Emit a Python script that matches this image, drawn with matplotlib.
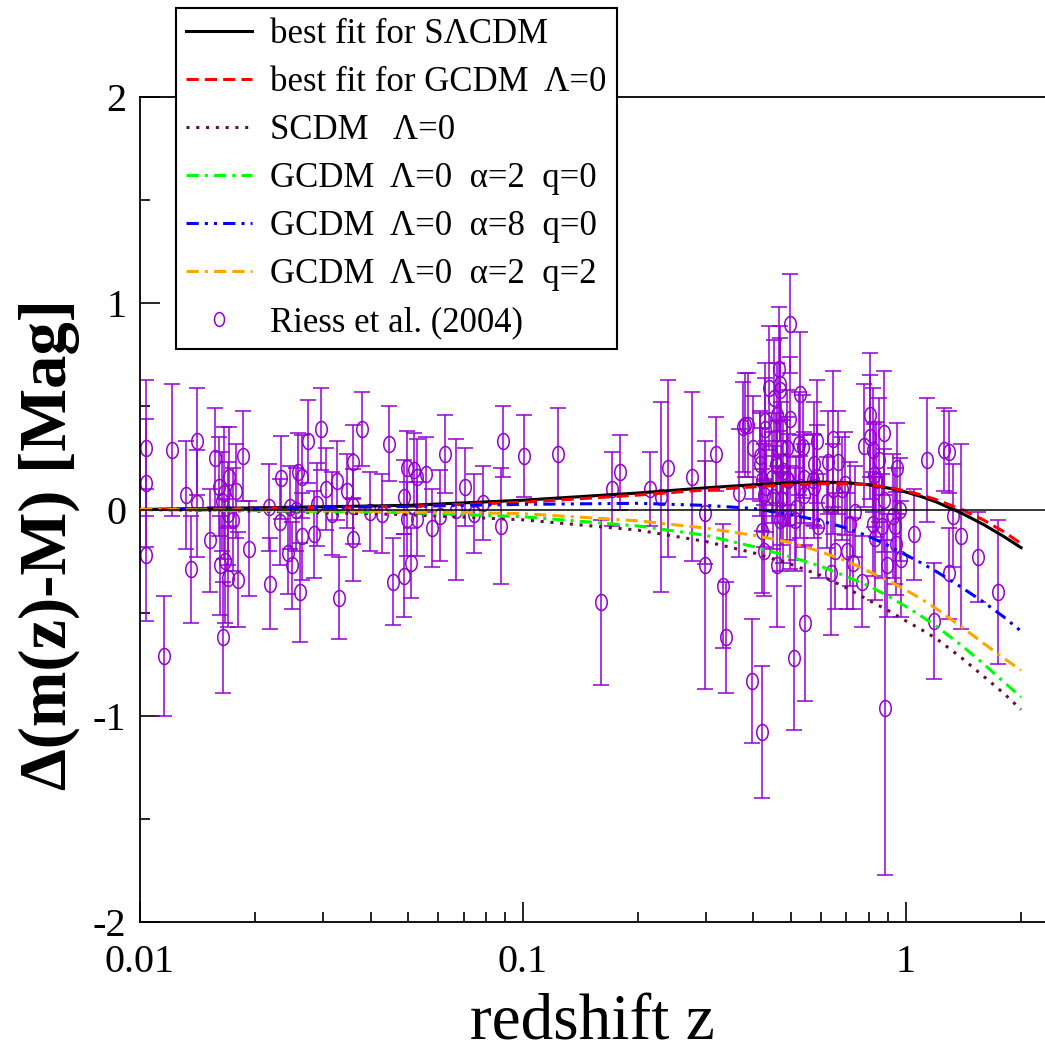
import numpy as np
import matplotlib
matplotlib.use('Agg')
import matplotlib.pyplot as plt
from matplotlib.path import Path
from matplotlib.lines import Line2D
from matplotlib.ticker import MultipleLocator, NullFormatter, LogLocator

plt.rcParams['font.family'] = ['Liberation Serif', 'DejaVu Serif']

# model curves
z_model = [0.01, 0.02, 0.05, 0.1, 0.2, 0.3, 0.4, 0.5, 0.6, 0.7, 0.8, 0.9, 1.0, 1.1, 1.2, 1.4, 1.6, 1.8, 2.0]
slcdm = [0.0, 0.008, 0.02, 0.045, 0.08, 0.105, 0.12, 0.13, 0.133, 0.13, 0.12, 0.104, 0.085, 0.062, 0.037, -0.018, -0.074, -0.13, -0.185]
gcdm_fit = [0.0, 0.006, 0.015, 0.035, 0.07, 0.095, 0.11, 0.12, 0.125, 0.125, 0.12, 0.107, 0.09, 0.07, 0.048, 0.0, -0.052, -0.107, -0.165]
scdm = [0.0, -0.008, -0.025, -0.05, -0.1, -0.155, -0.21, -0.265, -0.32, -0.38, -0.44, -0.49, -0.54, -0.583, -0.625, -0.72, -0.81, -0.89, -0.97]
gcdm_a2_q0 = [0.0, -0.005, -0.015, -0.035, -0.08, -0.125, -0.18, -0.23, -0.275, -0.325, -0.37, -0.42, -0.47, -0.518, -0.565, -0.66, -0.75, -0.835, -0.91]
gcdm_a8_q0 = [0.0, 0.006, 0.015, 0.025, 0.03, 0.02, 0.005, -0.025, -0.055, -0.09, -0.13, -0.175, -0.22, -0.26, -0.30, -0.378, -0.45, -0.52, -0.59]
gcdm_a2_q2 = [0.0, -0.003, -0.01, -0.02, -0.055, -0.09, -0.125, -0.16, -0.205, -0.25, -0.30, -0.345, -0.39, -0.435, -0.48, -0.57, -0.65, -0.72, -0.78]

# supernova data (Riess et al. 2004)
sn_z = [0.01037, 0.01037, 0.01037, 0.01155, 0.01212, 0.01319, 0.01359, 0.01409, 0.01409, 0.01523,
        0.0157, 0.01608, 0.01637, 0.01657, 0.01618, 0.01667, 0.01647, 0.01697, 0.01707, 0.01697,
        0.01749, 0.01781, 0.01803, 0.01858, 0.01926, 0.02172, 0.02185, 0.02334, 0.0232, 0.02434,
        0.02494, 0.02464, 0.02586, 0.02649, 0.02555, 0.02649, 0.02617, 0.02746, 0.02847, 0.02899,
        0.02969, 0.0306, 0.03172,
        0.03269, 0.03308, 0.03471, 0.03598, 0.03598, 0.03598, 0.03798, 0.03985, 0.04283, 0.04468,
        0.04577, 0.04891, 0.04891, 0.0498, 0.0498, 0.05101, 0.05194, 0.05289, 0.05289, 0.05583,
        0.05788, 0.06072, 0.06257, 0.06685, 0.07057, 0.07449, 0.07862, 0.08761, 0.08867, 0.1006,
        0.1234, 0.1598, 0.1708, 0.1792, 0.2146, 0.2293, 0.2391, 0.2762, 0.2987, 0.2987,
        0.3191, 0.3329, 0.3389, 0.3664, 0.3753,
        0.3798, 0.3868, 0.3962, 0.3986, 0.4158, 0.4208, 0.4208, 0.4208, 0.4259, 0.4285,
        0.4285, 0.4311, 0.4389, 0.4523, 0.4495, 0.4578, 0.4605, 0.4605, 0.4661, 0.4688,
        0.4688, 0.4717, 0.4774, 0.4774, 0.4890, 0.4920, 0.4979, 0.4979, 0.4979, 0.5101,
        0.5162, 0.5287, 0.5287, 0.5416, 0.5449, 0.5751, 0.5751, 0.5855, 0.5855, 0.5891,
        0.6220, 0.6258, 0.6372, 0.6449, 0.6527, 0.6646, 0.6808, 0.6449,
        0.4688, 0.5256, 0.4890, 0.4158, 0.4605, 0.5380, 0.5710, 0.5410, 0.4468, 0.4259,
        0.4717, 0.5130,
        0.6932, 0.7143, 0.7360, 0.7015, 0.7272, 0.7675, 0.7768, 0.8054, 0.8054, 0.8200,
        0.8250, 0.8350, 0.8200, 0.8300, 0.8502, 0.8657, 0.8762, 0.8762, 0.8815, 0.8921,
        0.9250, 0.9362, 0.9475, 0.9418, 0.9646, 0.9703, 1.0493, 1.1345, 1.1832,
        1.2568, 1.2954, 1.3268, 1.2954, 1.3921, 1.5417, 1.7388]
sn_dm = [0.30, 0.13, -0.22, -0.71, 0.29, 0.07, -0.29, 0.33, 0.03, -0.15,
         0.25, 0.11, 0.04, 0.08, -0.27, -0.25, -0.62, -0.33, 0.16, -0.02,
         -0.05, 0.09, -0.34, 0.26, -0.19, 0.01, -0.36, 0.155, -0.06, -0.21,
         -0.27, 0.01, 0.18, 0.16, 0.00, -0.13, -0.40, 0.33, -0.12, 0.025,
         0.39, 0.10, -0.02,
         0.14, -0.43, 0.09, 0.23, 0.015, -0.145, 0.39, -0.01, -0.02, 0.32,
         -0.35, -0.32, 0.06, 0.20, -0.045, -0.26, 0.19, 0.16, -0.045, 0.17,
         -0.09, -0.03, 0.27, 0.00, 0.11, -0.02, 0.03, -0.08, 0.33, 0.26,
         0.27, -0.45, 0.10, 0.18, 0.10, 0.06, 0.20, 0.16, -0.016, -0.27,
         0.27, -0.37, -0.62, 0.08, 0.40,
         0.41, 0.41, -0.83, 0.30, 0.26, -1.08, 0.145, -0.105, -0.20, 0.43,
         0.39, 0.11, 0.59, 0.54, 0.06, 0.22, -0.27, 0.46, 0.68, 0.61,
         0.58, 0.30, 0.185, -0.04, 0.15, 0.145, 0.90, 0.44, -0.04, -0.72,
         0.005, 0.56, 0.11, 0.155, -0.55, 0.22, 0.11, 0.33, 0.16, -0.08,
         0.035, 0.23, -0.31, 0.34, -0.20, 0.23, 0.10, 0.10,
         -0.05, 0.32, 0.30, 0.22, 0.21, 0.305, 0.145, 0.07, 0.155, 0.07,
         0.05, -0.05,
         0.125, -0.07, -0.01, -0.20, -0.26, -0.35, 0.31, 0.46, 0.35, 0.29,
         0.165, 0.145, -0.07, -0.14, 0.24, -0.08, 0.37, 0.045, -0.96, -0.27,
         -0.03, -0.08, 0.20, -0.165, 0.0, -0.24, -0.12, 0.24, -0.54,
         0.29, 0.28, -0.03, -0.31, -0.13, -0.23, -0.40]
sn_err = [0.33, 0.31, 0.32, 0.29, 0.32, 0.26, 0.26, 0.26, 0.26, 0.25,
          0.24, 0.24, 0.24, 0.32, 0.24, 0.30, 0.27, 0.24, 0.24, 0.25,
          0.25, 0.23, 0.23, 0.22, 0.23, 0.21, 0.22, 0.20, 0.21, 0.20,
          0.21, 0.20, 0.19, 0.20, 0.20, 0.21, 0.24, 0.20, 0.21, 0.20,
          0.20, 0.20, 0.20,
          0.19, 0.20, 0.18, 0.18, 0.18, 0.20, 0.18, 0.19, 0.19, 0.18,
          0.21, 0.20, 0.18, 0.18, 0.18, 0.17, 0.18, 0.18, 0.18, 0.18,
          0.19, 0.22, 0.19, 0.34, 0.19, 0.19, 0.18, 0.28, 0.17, 0.20,
          0.22, 0.40, 0.18, 0.18, 0.18, 0.46, 0.43, 0.41, 0.25, 0.60,
          0.18, 0.30, 0.27, 0.31, 0.22,
          0.25, 0.25, 0.30, 0.25, 0.22, 0.32, 0.25, 0.30, 0.22, 0.28,
          0.25, 0.22, 0.30, 0.28, 0.25, 0.25, 0.30, 0.25, 0.30, 0.28,
          0.25, 0.22, 0.25, 0.22, 0.30, 0.22, 0.24, 0.30, 0.25, 0.35,
          0.25, 0.30, 0.25, 0.22, 0.38, 0.30, 0.25, 0.30, 0.25, 0.25,
          0.22, 0.25, 0.30, 0.33, 0.28, 0.25, 0.25, 0.22,
          0.25, 0.25, 0.28, 0.25, 0.22, 0.25, 0.22, 0.25, 0.22, 0.25,
          0.22, 0.25,
          0.25, 0.30, 0.22, 0.28, 0.22, 0.22, 0.30, 0.30, 0.30, 0.30,
          0.25, 0.28, 0.25, 0.30, 0.30, 0.25, 0.30, 0.25, 0.81, 0.25,
          0.30, 0.28, 0.22, 0.25, 0.25, 0.28, 0.22, 0.30, 0.28,
          0.20, 0.20, 0.25, 0.22, 0.45, 0.22, 0.35]

labels = ['best fit for S\u039bCDM',
          'best fit for GCDM  \u039b=0',
          'SCDM   \u039b=0',
          'GCDM  \u039b=0  \u03b1=2  q=0',
          'GCDM  \u039b=0  \u03b1=8  q=0',
          'GCDM  \u039b=0  \u03b1=2  q=2',
          'Riess et al. (2004)']

purple = '#9400d3'

# slightly tall ellipse, the original output is squeezed sideways
theta = np.linspace(0, 2 * np.pi, 41)
ell = Path(np.column_stack([0.72 * np.cos(theta), np.sin(theta)]))

fig = plt.figure(figsize=(10.45, 10.59), dpi=100)
ax = fig.add_axes([140 / 1045, 1 - 922 / 1059, 905 / 1045, 825 / 1059])

ax.errorbar(sn_z, sn_dm, yerr=sn_err, fmt='none', ecolor=purple,
            elinewidth=1.1, capsize=5.8, capthick=1.1, zorder=2)
ax.plot(sn_z, sn_dm, ls='none', marker=ell, ms=11.5, mfc='none',
        mec=purple, mew=1.1, zorder=2)

ax.axhline(0, color='black', lw=1.1, zorder=4)

lw = 2.2
h1, = ax.plot(z_model, slcdm, color='black', lw=lw, ls='-', zorder=3)
h2, = ax.plot(z_model, gcdm_fit, color='#ff0000', lw=lw, ls=(0, (4, 2)), zorder=3)
h3, = ax.plot(z_model, scdm, color='#670d3c', lw=lw, ls=(0, (1, 2.2)), zorder=3)
h4, = ax.plot(z_model, gcdm_a2_q0, color='#00ff00', lw=lw, ls=(0, (4, 2, 1, 2)), zorder=3)
h5, = ax.plot(z_model, gcdm_a8_q0, color='#0000ff', lw=lw, ls=(0, (4, 2, 1, 2, 1, 2)), zorder=3)
h6, = ax.plot(z_model, gcdm_a2_q2, color='#ffa500', lw=lw, ls=(0, (4, 2, 1, 2, 4, 2)), zorder=3)
h7 = Line2D([], [], ls='none', marker=ell, ms=10, mfc='none', mec=purple, mew=1.1)

ax.set_xscale('log')
ax.set_xlim(0.01, 2.31)
ax.set_ylim(-2, 2)
ax.set_xticks([0.01, 0.1, 1])
ax.set_xticklabels(['0.01', '0.1', '1'])
ax.xaxis.set_minor_locator(LogLocator(base=10, subs=np.arange(2, 10)))
ax.xaxis.set_minor_formatter(NullFormatter())
ax.set_yticks([-2, -1, 0, 1, 2])
ax.set_yticklabels(['-2', '-1', '0', '1', '2'])
ax.yaxis.set_minor_locator(MultipleLocator(0.5))

ax.tick_params(which='both', direction='in', top=False, right=False, width=1.2)
ax.tick_params(which='major', length=14.5, labelsize=29)
ax.tick_params(axis='y', which='major', pad=10)
ax.tick_params(axis='x', which='major', pad=16)
ax.tick_params(which='minor', length=7)

ax.spines['right'].set_visible(False)
for s in ['left', 'bottom', 'top']:
    ax.spines[s].set_linewidth(1.3)

ax.set_xlabel('redshift z', fontsize=47)
ax.xaxis.label.set_va('bottom')
ax.xaxis.set_label_coords(0.5, -0.16)
ax.set_ylabel('\u0394(m(z)-M) [Mag]', fontsize=48, fontweight='bold')
ax.yaxis.set_label_coords(-0.066, 0.457)

leg = ax.legend([h1, h2, h3, h4, h5, h6, h7], labels,
                loc='upper left', bbox_to_anchor=(176 / 1045, 1 - 8 / 1059),
                bbox_transform=fig.transFigure, fontsize=25, frameon=True,
                fancybox=False, shadow=False, framealpha=1, edgecolor='black',
                borderpad=0.3, labelspacing=0.43, handlelength=1.9,
                handletextpad=0.5, borderaxespad=0, numpoints=1)
leg.get_frame().set_linewidth(1.5)
leg.set_zorder(10)

fig.savefig('out.png', dpi=100)
